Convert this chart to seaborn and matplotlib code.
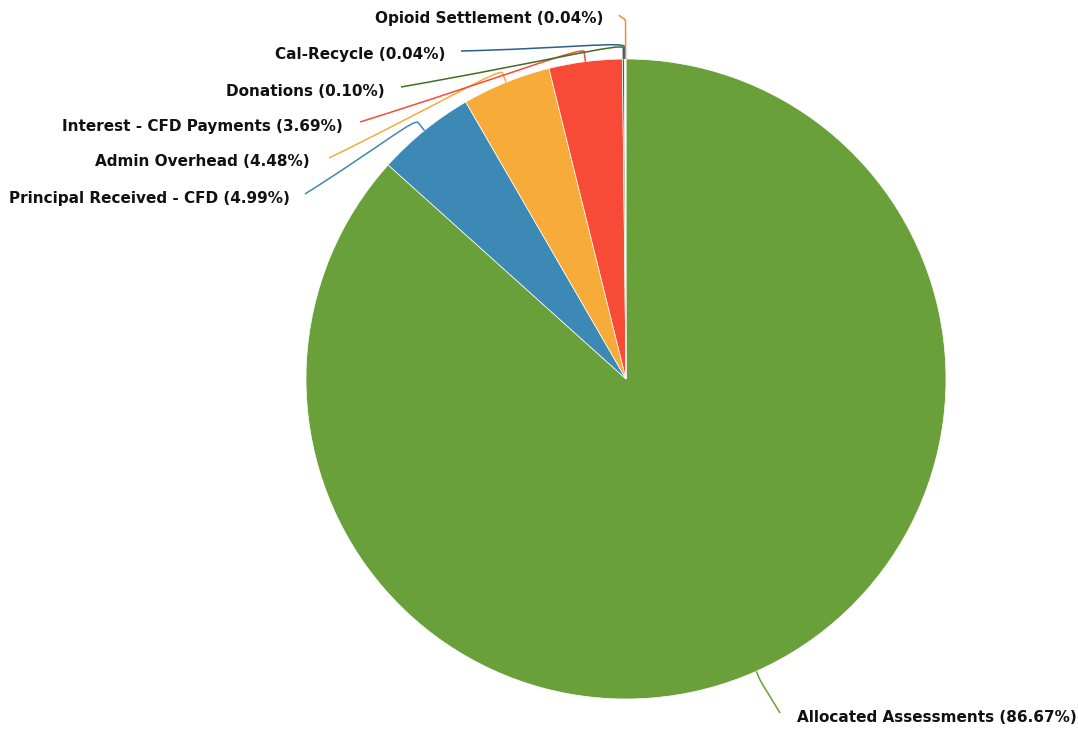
import numpy as np
import matplotlib
matplotlib.use("Agg")
import matplotlib.pyplot as plt
from matplotlib.path import Path
from matplotlib.patches import PathPatch
import seaborn as sns

# Revenue sources and their shares (percent)
categories = [
    "Allocated Assessments",
    "Principal Received - CFD",
    "Admin Overhead",
    "Interest - CFD Payments",
    "Donations",
    "Cal-Recycle",
    "Opioid Settlement",
]
shares = [86.67, 4.99, 4.48, 3.69, 0.10, 0.04, 0.04]
colors = ["#6aa03a", "#3d89b5", "#f7ab38", "#f84b37", "#3f6f22", "#2c5f8a", "#f28a30"]

sns.set_theme(style="white")
plt.rcParams["font.family"] = ["DejaVu Sans"]

W, H = 1078, 732
fig = plt.figure(figsize=(W / 100, H / 100), dpi=100)
ax = fig.add_axes([0, 0, 1, 1])

cx, cy, R = 626, H - 379, 320
wedges, _ = ax.pie(
    shares, colors=colors, startangle=90, counterclock=False,
    center=(cx, cy), radius=R,
    wedgeprops=dict(edgecolor="white", linewidth=0.5),
)
ax.set_xlim(0, W)
ax.set_ylim(0, H)
ax.set_aspect("equal")
ax.axis("off")

# label layout: (text anchor x, y in pixels from top, alignment, radial extension, leader end)
layout = [
    (797, 717, "left", 8, (780, 713)),
    (290, 199, "right", 10, (305, 194)),
    (310, 162, "right", 10, (329, 158)),
    (343, 127, "right", 10, (360, 122)),
    (385, 91, "right", 11, (401, 87)),
    (445, 55, "right", 12, (461, 51)),
    (603, 18, "right", 36, (619, 15)),
]

for w, name, val, col, (tx, ty, ha, ext, end) in zip(wedges, categories, shares, colors, layout):
    mid = np.deg2rad((w.theta1 + w.theta2) / 2)
    u = np.array([np.cos(mid), np.sin(mid)])
    p0 = np.array([cx, cy]) + u * R
    p1 = np.array([cx, cy]) + u * (R + ext)
    p3 = np.array([end[0], H - end[1]])
    c1 = p1 + u * 6
    c2 = p1 + (p3 - p1) * 0.35
    path = Path([p0, p1, c1, c2, p3],
                [Path.MOVETO, Path.LINETO, Path.CURVE4, Path.CURVE4, Path.CURVE4])
    ax.add_patch(PathPatch(path, facecolor="none", edgecolor=col, linewidth=1.1))
    ax.text(tx, H - ty, f"{name} ({val:.2f}%)", ha=ha, va="center",
            fontsize=11, fontweight="bold", color="#111111")

fig.savefig("out.png", dpi=100)
